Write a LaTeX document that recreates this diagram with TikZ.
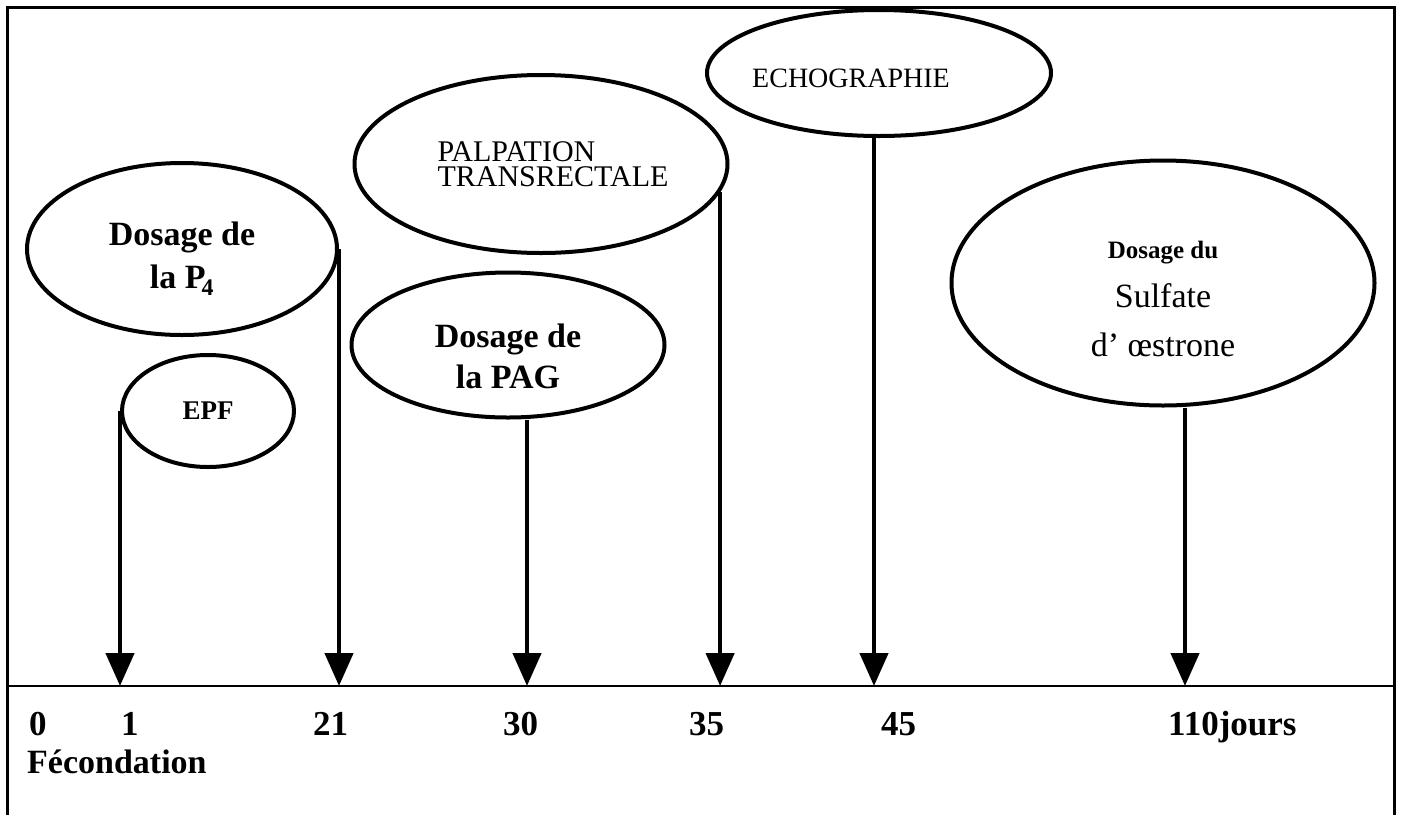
\documentclass[tikz,border=0pt]{standalone}
\usepackage{fontspec}
\setmainfont{Liberation Serif}
\usetikzlibrary{arrows.meta, shapes.geometric}
\newcommand{\padtop}[1]{\rule{0pt}{#1}}
\tikzset{
  oval/.style={draw, ellipse, line width=4pt, inner sep=0pt}, % each test sits in an ellipse
  arr/.style={line width=4.5pt, -{Triangle[width=28pt,length=33pt]}}, % from a test down to its day
  daylabel/.style={font=\fontsize{35}{40}\selectfont\bfseries, inner sep=0pt, anchor=base west},
}

\begin{document}
\begin{tikzpicture}[x=1pt, y=-1pt]
    \useasboundingbox (0,0) rectangle (1401,815);
    % frame, open at the bottom
    \draw[line width=3pt] (7,815) -- (7,7) -- (1394,7) -- (1394,815);

    % time axis
    \coordinate (ax0) at (7,686);
    \coordinate (ax1) at (1394,686);
    \draw[line width=2.5pt] (ax0) -- (ax1);

    % tests
    \node[oval, minimum width=310pt, minimum height=172pt, align=center,
      font=\fontsize{34}{43}\selectfont\bfseries] (p4) at (182,249)
      {\padtop{43pt}Dosage de\\la P\kern-0.12em\textsubscript{4}};
    \node[oval, minimum width=172pt, minimum height=112pt,
      font=\fontsize{27}{30}\selectfont\bfseries] (epf) at (208,411) {EPF};
    \node[oval, minimum width=373pt, minimum height=178pt, align=left,
      font=\fontsize{30}{25}\selectfont] (palp) at (541,164)
      {\hspace*{24pt}PALPATION\\\hspace*{24pt}TRANSRECTALE};
    \node[oval, minimum width=313pt, minimum height=145pt, align=center,
      font=\fontsize{34}{41}\selectfont\bfseries] (pag) at (508,345)
      {\padtop{47pt}Dosage de\\la PAG};
    \node[oval, minimum width=344pt, minimum height=126pt,
      font=\fontsize{28}{30}\selectfont] (echo) at (879,73)
      {\padtop{30pt}\makebox[0pt]{ECHOGRAPHIE\rule{56pt}{0pt}}};
    \node[oval, minimum width=423pt, minimum height=245pt, align=center,
      font=\fontsize{34}{49}\selectfont] (sulf) at (1163,283)
      {{\fontsize{25}{49}\selectfont\bfseries\padtop{50pt}Dosage du}\\
       Sulfate\\
       d’ œstrone};

    % arrows down to the axis
    \draw[arr] (epf.west) -- (epf.west |- ax0);
    \draw[arr] (p4.east) -- (p4.east |- ax0);
    \draw[arr] ([xshift=19pt]pag.south) -- ([xshift=19pt]pag.south |- ax0);
    \draw[arr] (palp.-9) -- (palp.-9 |- ax0);
    \draw[arr] ([xshift=-5pt]echo.south) -- ([xshift=-5pt]echo.south |- ax0);
    \draw[arr] ([xshift=22pt]sulf.south) -- ([xshift=22pt]sulf.south |- ax0);

    % days
    \node[daylabel] (d0) at (29,735) {0};
    \node[daylabel] (d1) at (121,735) {1};
    \node[daylabel] (d21) at (313,735) {21};
    \node[daylabel] (d30) at (503,735) {30};
    \node[daylabel] (d35) at (689,735) {35};
    \node[daylabel] (d45) at (881,735) {45};
    \node[daylabel] (d110) at (1168,735) {110jours};
    \node[daylabel, font=\fontsize{34}{40}\selectfont\bfseries] (fec) at (27,773) {Fécondation};

  \end{tikzpicture}
\end{document}
